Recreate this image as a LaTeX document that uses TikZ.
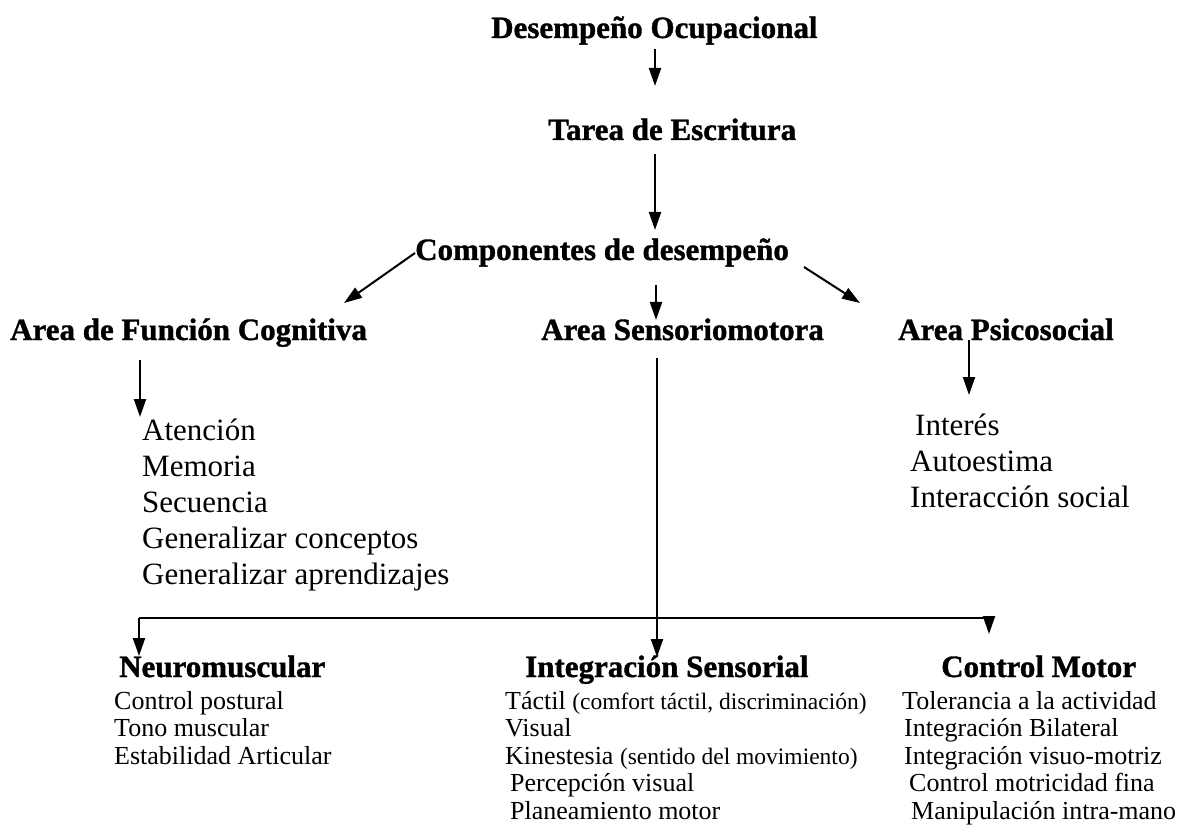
\documentclass[tikz,border=0pt]{standalone}
\usepackage{fontspec}
\setmainfont[BoldFeatures={FakeBold=1.2}]{Liberation Serif}
\usetikzlibrary{arrows.meta}
\tikzset{
  bighead/.style={anchor=base west, inner sep=0pt, font=\fontsize{31}{36}\selectfont\bfseries},
  listA/.style={anchor=base west, inner sep=0pt, font=\fontsize{31}{36}\selectfont},
  listB/.style={anchor=base west, inner sep=0pt, font=\fontsize{26}{29}\selectfont},
  arr/.style={line width=2pt, -{Triangle[length=18pt,width=12pt]}},
  plain/.style={line width=2pt}
}
\newcommand{\paren}[1]{{\fontsize{23.5}{27}\selectfont #1}}
\begin{document}
\begin{tikzpicture}[x=1pt,y=-1pt]
\useasboundingbox (0,0) rectangle (1191,826);
\fill[white] (0,0) rectangle (1191,826);

% top chain
\node[bighead] (desemp) at (491,38) {Desempeño Ocupacional};
\node[bighead] (tarea) at (548,140) {Tarea de Escritura};
\node[bighead] (comp) at (415,260) {Componentes de desempeño};

% areas
\node[bighead] (cog) at (10,340) {Area de Función Cognitiva};
\node[bighead] (sens) at (541,340) {Area Sensoriomotora};
\node[bighead] (psi) at (898,340) {Area Psicosocial};

% cognitive list
\node[listA] (at) at (142,440) {Atención};
\node[listA] (me) at (142,476) {Memoria};
\node[listA] (se) at (142,512) {Secuencia};
\node[listA] (gc) at (142,548) {Generalizar conceptos};
\node[listA] (ga) at (142,584) {Generalizar aprendizajes};

% psychosocial list
\node[listA] (in) at (915,435) {Interés};
\node[listA] (au) at (910,471) {Autoestima};
\node[listA] (is) at (910,507) {Interacción social};

% bottom headers
\node[bighead] (neu) at (119,677) {Neuromuscular};
\node[bighead] (ise) at (525,677) {Integración Sensorial};
\node[bighead] (cm) at (941,677) {Control Motor};

% neuromuscular list
\node[listB] (n1) at (114,709) {Control postural};
\node[listB] (n2) at (114,736.5) {Tono muscular};
\node[listB] (n3) at (114,764) {Estabilidad Articular};

% sensory integration list
\node[listB] (s1) at (505,709) {Táctil \paren{(comfort táctil, discriminación)}};
\node[listB] (s2) at (505,736.5) {Visual};
\node[listB] (s3) at (505,764) {Kinestesia \paren{(sentido del movimiento)}};
\node[listB] (s4) at (510,791.5) {Percepción visual};
\node[listB] (s5) at (510,819) {Planeamiento motor};

% motor control list
\node[listB] (c1) at (902,709) {Tolerancia a la actividad};
\node[listB] (c2) at (904,736.5) {Integración Bilateral};
\node[listB] (c3) at (904,764) {Integración visuo-motriz};
\node[listB] (c4) at (909,791.5) {Control motricidad fina};
\node[listB] (c5) at (911,819) {Manipulación intra-mano};

% connector end points
\coordinate (a1s) at (655,49);   \coordinate (a1e) at (655,86);
\coordinate (a2s) at (655,154);  \coordinate (a2e) at (655,230);
\coordinate (l1s) at (415,253);  \coordinate (l1e) at (344,303);
\coordinate (m1s) at (656,285);  \coordinate (m1e) at (656,320);
\coordinate (r1s) at (804,267);  \coordinate (r1e) at (860,303);
\coordinate (cgs) at (140,360);  \coordinate (cge) at (140,417);
\coordinate (pss) at (969,340);  \coordinate (pse) at (969,395);
\coordinate (vs) at (657,358);   \coordinate (vj) at (657,618);
\coordinate (ve) at (657,657);
\coordinate (hl) at (139,618);   \coordinate (hr) at (989,618);
\coordinate (hle) at (139,656);  \coordinate (hre) at (989,634);

\draw[arr] (a1s) -- (a1e);
\draw[arr] (a2s) -- (a2e);
\draw[arr] (l1s) -- (l1e);
\draw[arr] (m1s) -- (m1e);
\draw[arr] (r1s) -- (r1e);
\draw[arr] (cgs) -- (cge);
\draw[arr] (pss) -- (pse);
\draw[plain] (vs) -- (vj);
\draw[arr] (vj) -- (ve);
\draw[plain] (hl) -- (hr);
\draw[arr] (hl) -- (hle);
\draw[arr] (hr) -- (hre);
\end{tikzpicture}
\end{document}
